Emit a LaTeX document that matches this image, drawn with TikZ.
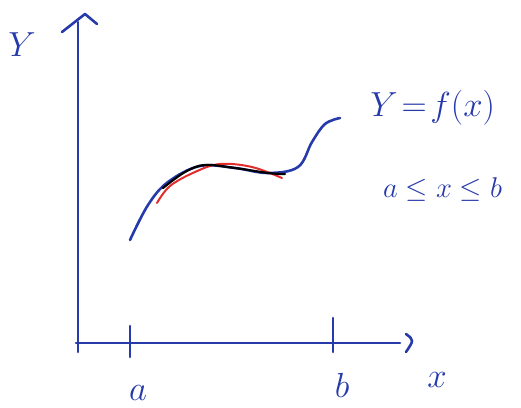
\documentclass[tikz,border=0pt]{standalone}
\usepackage{amsmath,amssymb}
\usetikzlibrary{arrows.meta,calc,positioning}
\definecolor{pen}{RGB}{38,58,170}
\definecolor{redpen}{RGB}{225,45,45}
\tikzset{
  ink/.style={draw=pen, line width=2.6pt, line cap=round, line join=round},
  lbl/.style={text=pen, inner sep=0pt, font=\Huge, scale=1.4},
  slbl/.style={text=pen, inner sep=0pt, font=\Huge, scale=1.15},
}

\begin{document}
\begin{tikzpicture}[x=1pt, y=-1pt]
\useasboundingbox (0,0) rectangle (521,407);

% axes
\draw[ink] (78,22) -- (78,352);
\draw[ink] (62,32) -- (85,14) -- (97,24);
\draw[ink] (76,343) -- (400,343);
\draw[ink] (406,334) .. controls (414,340) .. (406,352);

% ticks
\draw[ink] (130,326) -- (130,357);
\draw[ink] (333,318) -- (333,352);

% curve y=f(x)
\draw[ink] plot[smooth, tension=0.6] coordinates {(130,240) (148,205) (168,182) (200,166) (235,168) (268,173) (298,167) (312,142) (325,124) (340,118)};
% approximation
\draw[draw=redpen, line width=2pt, line cap=round] plot[smooth, tension=0.6] coordinates {(157,203) (170,186) (195,172) (220,164) (252,167) (282,178)};
\draw[line width=2.2pt, line cap=round] plot[smooth, tension=0.6] coordinates {(163,188) (185,172) (205,165) (235,168) (268,173) (285,174)};

% labels
\node[lbl] (ylab) at (22,45) {$Y$};
\node[lbl] (xlab) at (437,380) {$x$};
\node[lbl] (alab) at (138,393) {$a$};
\node[lbl] (blab) at (342,385) {$b$};
\node[lbl, anchor=west] (func) at (370,108) {$Y\!=\!f(x)$};
\node[slbl, anchor=west] (range) at (383,190) {$a\le x\le b$};
\end{tikzpicture}
\end{document}
